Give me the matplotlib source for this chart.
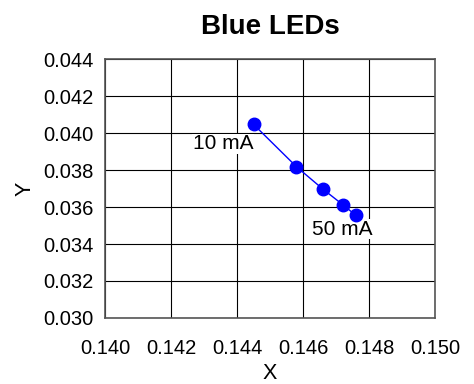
import matplotlib.pyplot as plt

plt.rcParams['font.family'] = ['Liberation Sans', 'DejaVu Sans']

x = [0.1445, 0.1458, 0.1466, 0.1472, 0.1476]
y = [0.04047, 0.03818, 0.03697, 0.03613, 0.03555]
xticks = [0.140, 0.142, 0.144, 0.146, 0.148, 0.150]
yticks = [0.030, 0.032, 0.034, 0.036, 0.038, 0.040, 0.042, 0.044]

fig = plt.figure(figsize=(4.74, 3.84), dpi=100)
ax = fig.add_axes([0.2215, 0.172, 0.6965, 0.674])

ax.plot(x, y, color='#0000ff', lw=1, marker='o', ms=9, zorder=3)

ax.text(0.14450, 0.03941, '10 mA', ha='right', va='center', fontsize=15,
        bbox=dict(facecolor='white', edgecolor='none', pad=0.5), zorder=2)
ax.text(0.14626, 0.03481, '50 mA', ha='left', va='center', fontsize=15,
        bbox=dict(facecolor='white', edgecolor='none', pad=0.5), zorder=2)

ax.set_xlim(0.140, 0.150)
ax.set_ylim(0.030, 0.044)
ax.set_xticks(xticks)
ax.set_yticks(yticks)
ax.set_xticklabels([f'{v:.3f}' for v in xticks])
ax.set_yticklabels([f'{v:.3f}' for v in yticks])
ax.tick_params(length=0, labelsize=14.5)
ax.tick_params(axis='y', pad=8)
ax.tick_params(axis='x', pad=15)
ax.grid(True, color='black', lw=0.8)
ax.set_axisbelow(True)
for s in ax.spines.values():
    s.set_color('#555555')
    s.set_linewidth(1.2)

ax.set_xlabel('X', fontsize=15.5, labelpad=4)
ax.set_ylabel('Y', fontsize=15.5, labelpad=6)
ax.set_title('Blue LEDs', fontsize=20, fontweight='bold', pad=18)

fig.savefig('out.png', dpi=100)
